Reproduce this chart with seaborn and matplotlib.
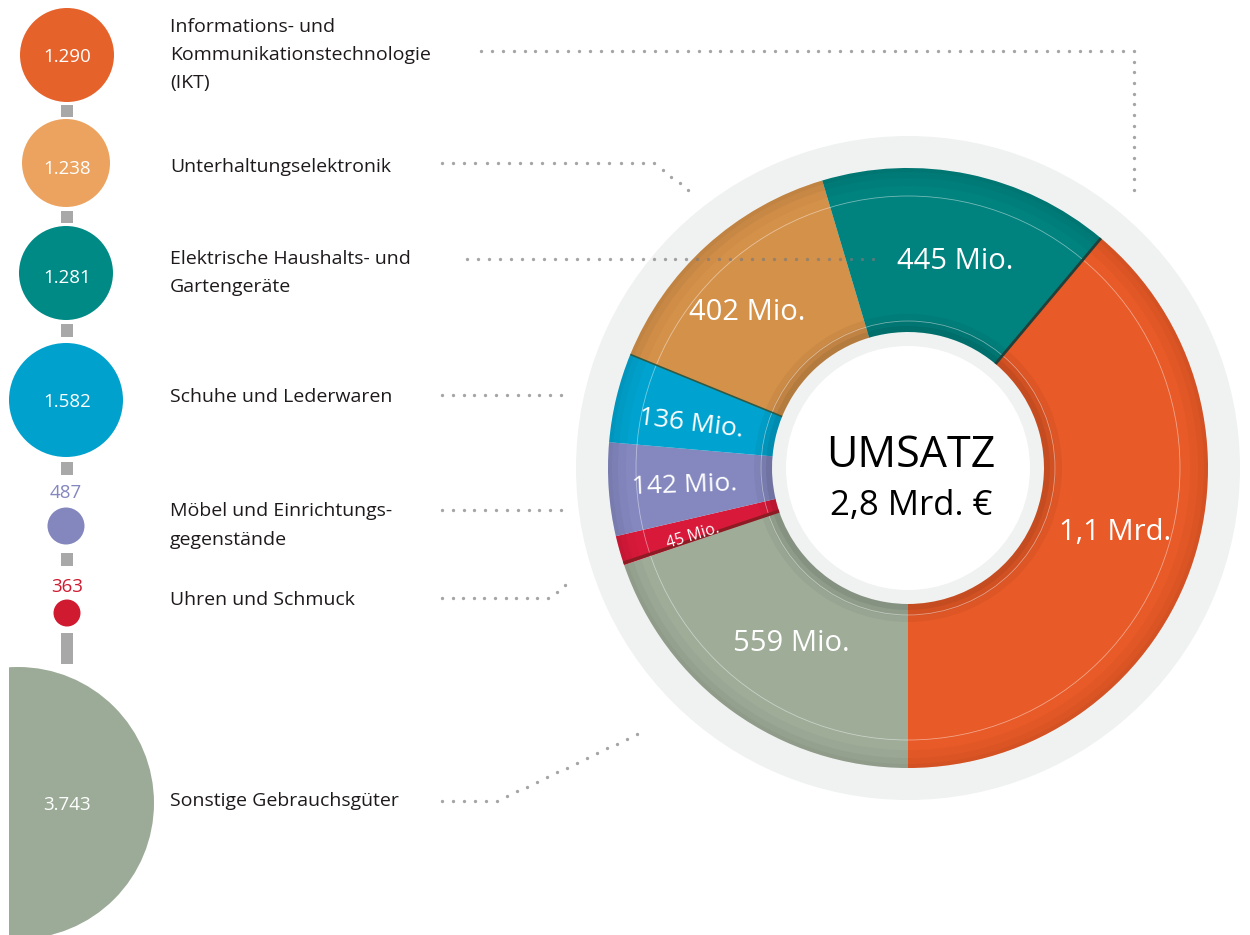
import numpy as np
import pandas as pd
import matplotlib
matplotlib.use("Agg")
import matplotlib.pyplot as plt
from matplotlib.patches import Wedge, Circle, Rectangle
import seaborn as sns

# ---------------- data ----------------
keys = ["IKT", "UE", "EHG", "SL", "ME", "US", "SG"]
categories = [
    "Informations- und\nKommunikationstechnologie\n(IKT)",
    "Unterhaltungselektronik",
    "Elektrische Haushalts- und\nGartengeräte",
    "Schuhe und Lederwaren",
    "Möbel und Einrichtungs-\ngegenstände",
    "Uhren und Schmuck",
    "Sonstige Gebrauchsgüter",
]
bubble_values = [1290, 1238, 1281, 1582, 487, 363, 3743]
bubble_labels = ["1.290", "1.238", "1.281", "1.582", "487", "363", "3.743"]
revenue_mio = [1100, 402, 445, 136, 142, 45, 559]
revenue_labels = ["1,1 Mrd.", "402 Mio.", "445 Mio.", "136 Mio.", "142 Mio.", "45 Mio.", "559 Mio."]
center_title = "UMSATZ"
center_total = "2,8 Mrd. €"
donut_order = ["SG", "US", "ME", "SL", "UE", "EHG", "IKT"]  # clockwise from 6 o'clock

# ---------------- styles ----------------
bubble_colors = {"IKT": "#e6622b", "UE": "#eca35f", "EHG": "#008a85", "SL": "#00a1cd",
                 "ME": "#8387bd", "US": "#d01a30", "SG": "#9cab97"}
donut_colors = {"IKT": "#e85a27", "UE": "#d4914a", "EHG": "#00827e", "SL": "#00a3cf",
                "ME": "#8488bf", "US": "#d9193a", "SG": "#9eac98"}
bubble_cx = {"IKT": 67, "UE": 66, "EHG": 66, "SL": 66, "ME": 66, "US": 67, "SG": 18}
bubble_cy = {"IKT": 55, "UE": 163, "EHG": 273, "SL": 400, "ME": 526, "US": 613, "SG": 803}
bubble_r = {"IKT": 47, "UE": 44, "EHG": 47, "SL": 57, "ME": 18.5, "US": 13.5, "SG": 136}
number_base = {"IKT": 62, "UE": 174, "EHG": 283, "SL": 407, "ME": 498, "US": 592, "SG": 810}
label_base = {"IKT": 31.5, "UE": 171.5, "EHG": 263.5, "SL": 401.5, "ME": 516.5, "US": 605, "SG": 806.5}
connectors = [(105, 117), (211, 223), (324, 337), (462, 475), (553, 566), (633, 664)]
leaders = [
    [(481, 51), (1134, 51), (1134, 190)],
    [(442, 163), (654, 163), (688, 190)],
    [(467, 259), (873, 259)],
    [(442, 395), (561, 395)],
    [(442, 510), (561, 510)],
    [(442, 598), (548, 598), (565, 585)],
    [(442, 801), (497, 801), (637, 734)],
]
# donut label polar placement: (angle offset deg, radius px, rotation deg, fontsize)
dlabel = {"IKT": (-3.6, 216, 0, 21), "UE": (-3.0, 226, 0, 21), "EHG": (1.0, 215, 0, 21),
          "SL": (-1.3, 222, -7, 19), "ME": (0.4, 224, 2, 19), "US": (-1.0, 225, 17, 11.5),
          "SG": (-1.4, 208, 0, 21)}

W, H, DPI = 1250, 935, 100
CX, CY, R_OUT, R_IN = 908, 468, 300, 136

sns.set_theme(style="white")
plt.rcParams["font.family"] = ["Open Sans", "DejaVu Sans"]

fig = plt.figure(figsize=(W / DPI, H / DPI), dpi=DPI)
ax = fig.add_axes([0, 0, 1, 1])
ax.set_xlim(0, W)
ax.set_ylim(H, 0)
ax.set_aspect("equal")
ax.axis("off")

TXT = "#1e1a1b"

# ---------------- bubbles (seaborn scatter) ----------------
df = pd.DataFrame({
    "key": keys,
    "value": bubble_values,
    "x": [bubble_cx[k] for k in keys],
    "y": [bubble_cy[k] for k in keys],
})
sizes = {k: (2 * bubble_r[k] * 72 / DPI) ** 2 for k in keys}
for i, (y0, y1) in enumerate(connectors):
    ax.add_patch(Rectangle((61, y0), 12, y1 - y0, color="#a8a8a8", lw=0, zorder=1))
sns.scatterplot(data=df, x="x", y="y", hue="key", size="key", sizes=sizes,
                palette=bubble_colors, linewidth=0, legend=False, ax=ax, zorder=2)
ax.collections[-1].set_clip_path(Rectangle((9, -20), W, H + 40, transform=ax.transData))
ax.set_xlim(0, W)
ax.set_ylim(H, 0)
ax.set_xlabel("")
ax.set_ylabel("")

for k, lab in zip(keys, bubble_labels):
    if k in ("ME", "US"):
        col = bubble_colors[k]
        ax.text(bubble_cx[k], number_base[k], lab, ha="center", va="baseline",
                fontsize=13.5, color=col, zorder=5)
    else:
        ax.text(67, number_base[k], lab, ha="center", va="baseline",
                fontsize=13.5, color="white", zorder=5)

for k, cat in zip(keys, categories):
    for j, line in enumerate(cat.split("\n")):
        ax.text(170, label_base[k] + j * 28.3, line, ha="left", va="baseline",
                fontsize=14, color=TXT, zorder=5)

# ---------------- donut ----------------
ax.add_patch(Circle((CX, CY), 332, color="#f0f2f1", lw=0, zorder=1))
rev = dict(zip(keys, revenue_mio))
revlab = dict(zip(keys, revenue_labels))
vals = np.array([rev[k] for k in donut_order], dtype=float)
spans = 360 * vals / vals.sum()
starts = 90 + np.concatenate([[0], np.cumsum(spans)[:-1]])
bounds = {}
for k, t1, sp in zip(donut_order, starts, spans):
    ax.add_patch(Wedge((CX, CY), R_OUT, t1, t1 + sp, width=R_OUT - R_IN,
                       facecolor=donut_colors[k], edgecolor="none", zorder=2))
    bounds[k] = (t1, t1 + sp)

# soft shading rings (inner and outer edge)
for r, w, a in [(154, 18, 0.04), (148, 12, 0.05), (142, 6, 0.06),
                (R_OUT, 18, 0.025), (R_OUT, 10, 0.03), (R_OUT, 4, 0.03)]:
    ax.add_patch(Wedge((CX, CY), r, 0, 360, width=w, facecolor="black",
                       edgecolor="none", alpha=a, zorder=3))
for r in (147, 272):
    ax.add_patch(Circle((CX, CY), r, fill=False, edgecolor="white", lw=0.6,
                        alpha=0.45, zorder=3))

def radial(theta, color, lw):
    t = np.deg2rad(theta)
    ax.plot([CX + R_IN * np.cos(t), CX + R_OUT * np.cos(t)],
            [CY + R_IN * np.sin(t), CY + R_OUT * np.sin(t)],
            color=color, lw=lw, solid_capstyle="butt", zorder=4)

radial(bounds["IKT"][0], "#22403a", 2.0)
radial(bounds["UE"][0], "#2f5a45", 1.2)
radial(bounds["US"][0] + 0.4, "#8d1b24", 2.4)

ax.add_patch(Circle((CX, CY), 122, color="white", lw=0, zorder=4))

for k, t1, sp in zip(donut_order, starts, spans):
    da, r, rot, fs = dlabel[k]
    t = np.deg2rad(t1 + sp / 2 + da)
    ax.text(CX + r * np.cos(t), CY + r * np.sin(t), revlab[k], ha="center",
            va="center_baseline", rotation=rot, rotation_mode="anchor",
            fontsize=fs, color="white", zorder=6)

ax.text(911, 467, center_title, ha="center", va="baseline", fontsize=31,
        color="black", zorder=6)
ax.text(911, 515, center_total, ha="center", va="baseline", fontsize=25,
        color="black", zorder=6)

# ---------------- leader dots ----------------
def dots_along(pts, step=10.9):
    out = []
    for (x0, y0), (x1, y1) in zip(pts[:-1], pts[1:]):
        L = np.hypot(x1 - x0, y1 - y0)
        n = max(int(round(L / step)), 1)
        for i in range(n):
            f = i / n
            out.append((x0 + f * (x1 - x0), y0 + f * (y1 - y0)))
    out.append(pts[-1])
    return np.array(out)

for pts in leaders:
    d = dots_along(pts)
    ax.plot(d[:, 0], d[:, 1], ls="none", marker="o", ms=2.4, mew=0,
            color="#7a7a7a", alpha=0.68, zorder=7)

fig.savefig("out.png", dpi=DPI)
